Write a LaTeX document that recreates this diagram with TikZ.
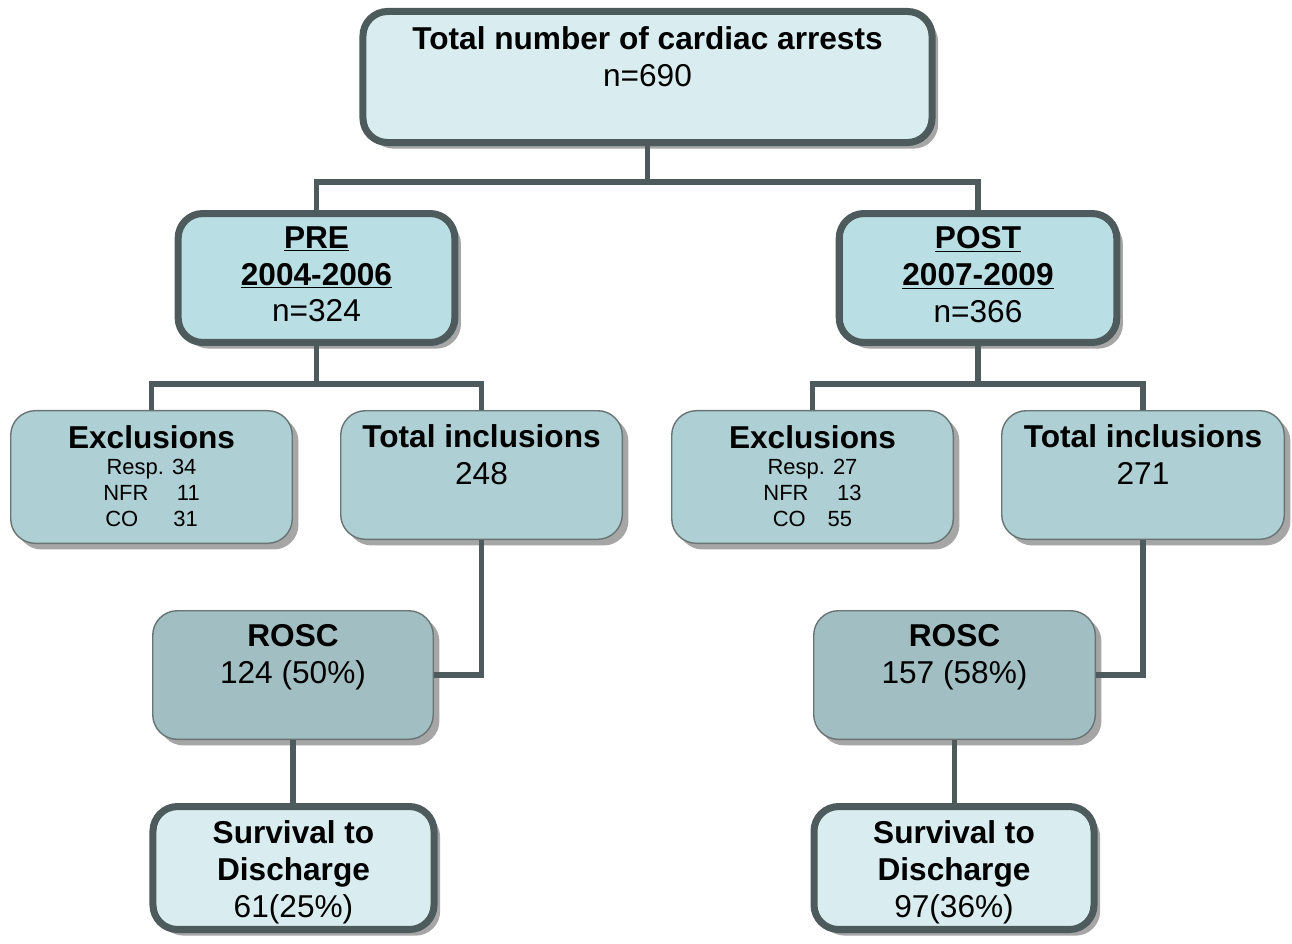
\documentclass[tikz,border=0pt]{standalone}
\usepackage{fontspec}
\setmainfont{Liberation Sans}
\usetikzlibrary{shadows}
\definecolor{edge}{HTML}{4E5B5C}
\definecolor{pale}{HTML}{D9EDF0}
\definecolor{cyanbox}{HTML}{B9DFE4}
\definecolor{midbox}{HTML}{AECFD3}
\definecolor{roscbox}{HTML}{A1BFC2}
\tikzset{
  box/.style={rounded corners=14pt,inner sep=0pt,
    drop shadow={shadow xshift=3.5pt,shadow yshift=-3.5pt,fill=black!35,opacity=1}},
  heavy/.style={box,draw=edge,line width=4pt},
  light/.style={box,draw=edge!85,line width=0.8pt},
  txt/.style={font=\fontsize{18}{21}\selectfont,align=center,inner sep=0pt,anchor=north},
  small/.style={font=\fontsize{12.5}{14.8}\selectfont,align=center,inner sep=0pt,anchor=north},
  link/.style={draw=edge,line width=3.1pt}
}
\begin{document}
\begin{tikzpicture}[x=0.5693pt,y=0.5693pt]
\useasboundingbox (0,0) rectangle (1292,-943);
\node[heavy,fill=pale,minimum width=324pt,minimum height=74.6pt] (top) at (647.5,-77) {};
\node[heavy,fill=cyanbox,minimum width=157.5pt,minimum height=73.4pt] (pre) at (316.5,-278) {};
\node[heavy,fill=cyanbox,minimum width=158pt,minimum height=73.4pt] (post) at (978,-278) {};
\node[light,fill=midbox,minimum width=160.3pt,minimum height=75.5pt] (exL) at (151.5,-477) {};
\node[light,fill=midbox,minimum width=160.3pt,minimum height=73.2pt] (inL) at (481.5,-475) {};
\node[light,fill=midbox,minimum width=160.3pt,minimum height=75.5pt] (exR) at (812.5,-477) {};
\node[light,fill=midbox,minimum width=160.9pt,minimum height=73.2pt] (inR) at (1143,-475) {};
\node[light,fill=roscbox,minimum width=159.7pt,minimum height=73.2pt] (roL) at (293,-675) {};
\node[light,fill=roscbox,minimum width=160.3pt,minimum height=73.2pt] (roR) at (954.5,-675) {};
\node[heavy,fill=pale,minimum width=160pt,minimum height=70pt] (svL) at (293.5,-868) {};
\node[heavy,fill=pale,minimum width=159.4pt,minimum height=70pt] (svR) at (954,-868) {};

\draw[link] (top.south) -- ++(0,-36) coordinate (topFork) -| (pre.north);
\draw[link] (topFork) -| (post.north);
\draw[link] (pre.south) -- ++(0,-38) coordinate (preFork) -| (exL.north);
\draw[link] (preFork) -| (inL.north);
\draw[link] (post.south) -- ++(0,-38) coordinate (postFork) -| (exR.north);
\draw[link] (postFork) -| (inR.north);
\draw[link] (inL.south) |- (roL.east);
\draw[link] (inR.south) |- (roR.east);
\draw[link] (roL.south) -- (roL.south |- svL.north);
\draw[link] (roR.south) -- (roR.south |- svR.north);

\node[txt] (topT) at ([yshift=-10.2pt]top.north) {\textbf{Total number of cardiac arrests}\\n=690};
\node[txt] (preT) at ([yshift=-9.1pt]pre.north) {\textbf{\underline{PRE}}\\\textbf{\underline{2004-2006}}\\n=324};
\node[txt] (postT) at ([yshift=-9.1pt]post.north) {\textbf{\underline{POST}}\\\textbf{\underline{2007-2009}}\\n=366};
\node[txt] (exLT) at ([yshift=-8.8pt]exL.north) {\textbf{Exclusions}};
\node[small] (exLS) at ([yshift=-5.5pt]exLT.south) {Resp. 34\\NFR\hspace{1.3em}11\\CO\hspace{1.6em}31};
\node[txt] (inLT) at ([yshift=-8pt]inL.north) {\textbf{Total inclusions}\\248};
\node[txt] (exRT) at ([yshift=-8.8pt]exR.north) {\textbf{Exclusions}};
\node[small] (exRS) at ([yshift=-5.5pt]exRT.south) {Resp. 27\\NFR\hspace{1.3em}13\\CO\hspace{1em}55};
\node[txt] (inRT) at ([yshift=-8pt]inR.north) {\textbf{Total inclusions}\\271};
\node[txt] (roLT) at ([yshift=-8pt]roL.north) {\textbf{ROSC}\\124 (50\%)};
\node[txt] (roRT) at ([yshift=-8pt]roR.north) {\textbf{ROSC}\\157 (58\%)};
\node[txt] (svLT) at ([yshift=-10pt]svL.north) {\textbf{Survival to}\\\textbf{Discharge}\\61(25\%)};
\node[txt] (svRT) at ([yshift=-10pt]svR.north) {\textbf{Survival to}\\\textbf{Discharge}\\97(36\%)};
\end{tikzpicture}
\end{document}
